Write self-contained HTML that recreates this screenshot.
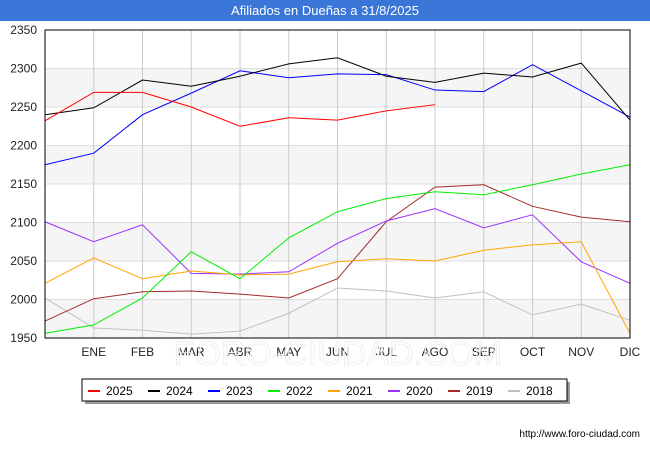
<!DOCTYPE html>
<html><head><meta charset="utf-8"><style>
body{margin:0;width:650px;height:450px;background:#fff;font-family:"Liberation Sans","DejaVu Sans",sans-serif;overflow:hidden}
#t{position:absolute;left:0;top:0;width:650px;height:21px;background:#3a76d8;color:#fff;font-size:13px;text-align:center;line-height:22px}
</style></head><body>
<div id="t">Afiliados en Dueñas a 31/8/2025</div>
<svg id="c" width="650" height="450" style="position:absolute;left:0;top:0"></svg>
<script>
const months=["","ENE","FEB","MAR","ABR","MAY","JUN","JUL","AGO","SEP","OCT","NOV","DIC"];
const yTicks=[1950,2000,2050,2100,2150,2200,2250,2300,2350];
const seriesNames=["2025","2024","2023","2022","2021","2020","2019","2018"];
const seriesColors=["#ff0000","#000000","#0000ff","#00ee00","#ffa500","#9b30ff","#a52a2a","#c0c0c0"];
const s2025=[2232,2269,2269,2250,2225,2236,2233,2245,2253];
const s2024=[2240,2249,2285,2277,2290,2306,2314,2290,2282,2294,2289,2307,2233];
const s2023=[2175,2190,2240,2268,2297,2288,2293,2292,2272,2270,2305,2271,2237];
const s2022=[1956,1967,2002,2062,2027,2080,2114,2131,2140,2136,2149,2163,2175];
const s2021=[2021,2054,2027,2037,2032,2033,2049,2053,2050,2064,2071,2075,1956];
const s2020=[2101,2075,2097,2034,2033,2036,2073,2102,2118,2093,2110,2049,2021];
const s2019=[1972,2001,2010,2011,2007,2002,2027,2101,2146,2149,2121,2107,2101];
const s2018=[2002,1963,1960,1955,1959,1982,2015,2011,2002,2010,1980,1994,1973];
const allSeries=[s2025,s2024,s2023,s2022,s2021,s2020,s2019,s2018];
const L=45,R=630,T=30,B=338,ymin=1950,ymax=2350;
const xs=i=>L+i*(R-L)/12, ys=v=>B-(v-ymin)/(ymax-ymin)*(B-T);
const svg=document.getElementById('c'),NS="http://www.w3.org/2000/svg";
function el(tag,a,parent){const e=document.createElementNS(NS,tag);for(const k in a)e.setAttribute(k,a[k]);(parent||svg).appendChild(e);return e;}
for(let i=0;i<yTicks.length-1;i++){if(i%2==0){const b=el('rect',{x:L,y:ys(yTicks[i+1]),width:R-L,height:ys(yTicks[i])-ys(yTicks[i+1]),fill:'#f5f5f5'});

}}
yTicks.forEach(v=>{const g=el('line',{x1:L,x2:R,y1:ys(v),y2:ys(v),stroke:'#ddd'});


const t=el('text',{x:L-8,y:ys(v)+4,'text-anchor':'end','font-size':12,fill:'#222'});t.textContent=v;

});
months.forEach((m,i)=>{if(i>0&&i<12){const g=el('line',{x1:xs(i),x2:xs(i),y1:T,y2:B,stroke:'#ccc'});

}
if(m){const t=el('text',{x:xs(i),y:356,'text-anchor':'middle','font-size':12,fill:'#222'});t.textContent=m;

}});
const wm=el('text',{x:338,y:365,'text-anchor':'middle','font-size':34,fill:'none',stroke:'#eceef3','stroke-width':1});wm.textContent="FORO-CIUDAD.COM";


for(let k=allSeries.length-1;k>=0;k--){const p=el('polyline',{points:allSeries[k].map((v,i)=>xs(i)+','+ys(v)).join(' '),fill:'none',stroke:seriesColors[k],'stroke-width':1});

}
const fr=el('rect',{x:L,y:T,width:R-L,height:B-T,fill:'none',stroke:'#000'});


el('rect',{x:85,y:382,width:485,height:22,fill:'#999'});
const lg=el('rect',{x:82,y:379,width:485,height:22,fill:'#fff',stroke:'#000'});


seriesNames.forEach((n,k)=>{const x=88+k*60;
const l=el('line',{x1:x,x2:x+12,y1:391,y2:391,stroke:seriesColors[k],'stroke-width':2});


const t=el('text',{x:x+18,y:395,'font-size':12,fill:'#000'});t.textContent=n;

});
const u=el('text',{x:640,y:437,'text-anchor':'end','font-size':10,fill:'#000'});u.textContent="http://www.foro-ciudad.com";


</script>
</body></html>
